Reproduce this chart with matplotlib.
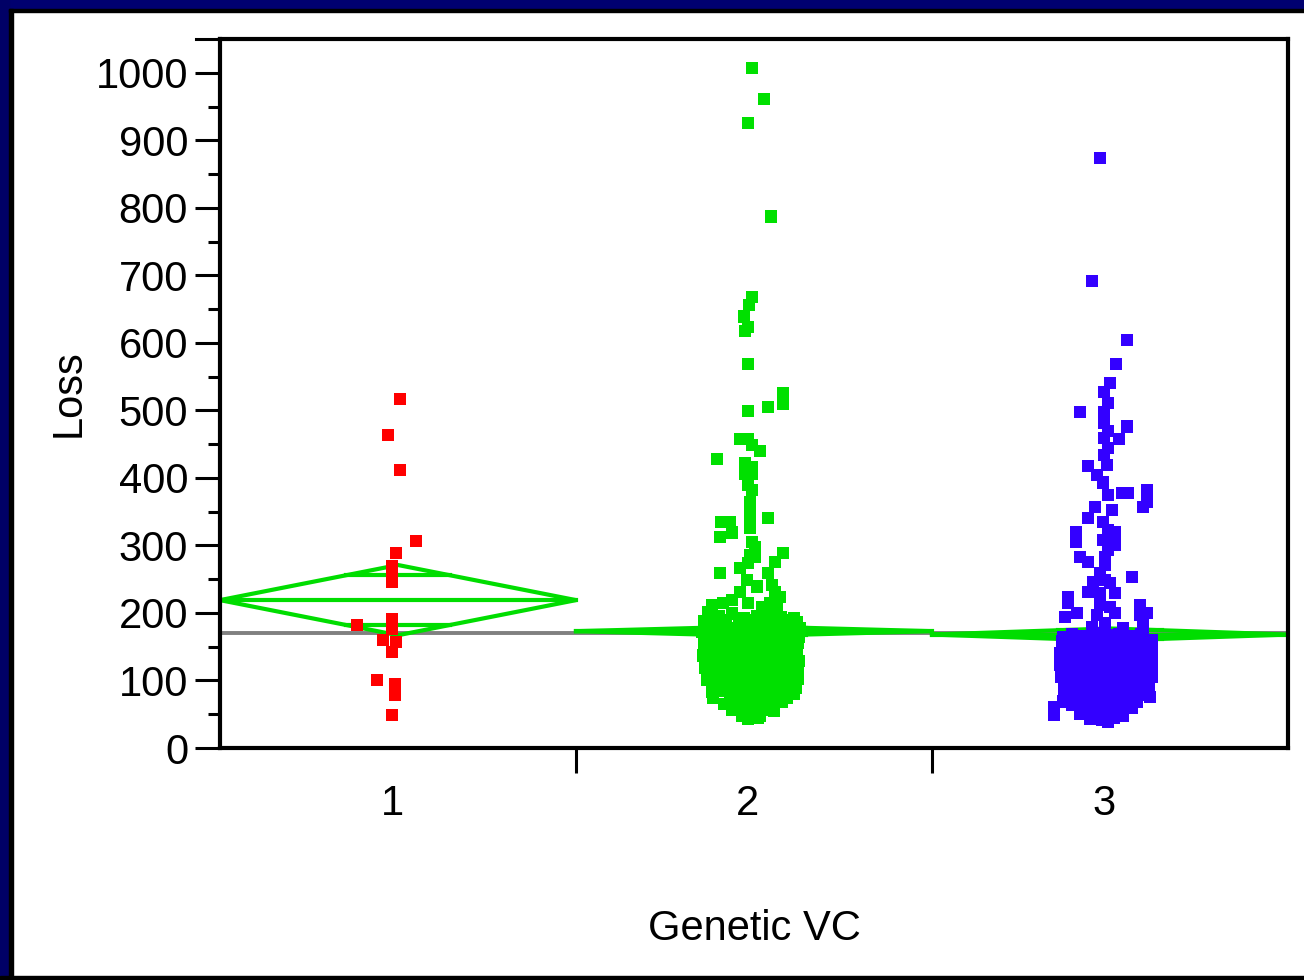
import numpy as np
import matplotlib
matplotlib.use("Agg")
import matplotlib.pyplot as plt
import matplotlib.transforms as mtransforms
from matplotlib.patches import Rectangle

plt.rcParams['font.family'] = ['Liberation Sans', 'DejaVu Sans']

# ---------------- data ----------------
groups = [1, 2, 3]
group_labels = ["1", "2", "3"]
x_label = "Genetic VC"
y_label = "Loss"

# group 1 (red)
g1_jitter = [0.006, -0.028, 0.006, 0.051, -0.006, -0.017, -0.017, -0.017, -0.115,
             -0.017, -0.017, -0.042, -0.006, -0.017, -0.059, -0.008, -0.008, -0.017]
g1_loss = [517, 464, 412, 307, 289, 270, 258, 246, 182,
           191, 176, 160, 157, 142, 101, 95, 79, 49]

# group 2 (green)
g2_jitter = [
    -0.006, 0.028, -0.017, 0.048, -0.006, -0.014, -0.028, -0.017, -0.025, -0.017,
    0.081, 0.081, 0.039, -0.017, -0.039, -0.017, -0.006, 0.017, -0.104, -0.025,
    -0.006, -0.025, -0.006, -0.017, -0.006, -0.011, -0.011, -0.011, -0.011, -0.093,
    -0.067, -0.062, -0.096, 0.039, -0.006, 0.003, -0.011, 0.003, 0.081, 0.059,
    -0.017, -0.039, 0.039, -0.096, -0.020, 0.008, 0.051, 0.059, 0.073, -0.039,
    -0.062, -0.087, -0.118, -0.129, -0.017, 0.045, 0.065, 0.022,
    # dense core
    -0.129, -0.098, -0.062, -0.028, 0.008, 0.042, 0.076, 0.112,
    -0.140, -0.110, -0.079, -0.042, -0.011, 0.022, 0.056, 0.087, 0.121,
    -0.124, -0.093, -0.056, -0.022, 0.011, 0.045, 0.079, 0.107, 0.129,
    -0.146, -0.112, -0.076, -0.039, -0.006, 0.031, 0.065, 0.098, 0.124,
    -0.132, -0.101, -0.067, -0.031, 0.003, 0.037, 0.073, 0.104, 0.126,
    -0.140, -0.107, -0.073, -0.037, -0.003, 0.025, 0.059, 0.093, 0.124,
    -0.126, -0.093, -0.056, -0.020, 0.014, 0.048, 0.081, 0.112,
    -0.143, -0.112, -0.079, -0.045, -0.011, 0.022, 0.053, 0.087, 0.121,
    -0.129, -0.098, -0.062, -0.028, 0.006, 0.039, 0.070, 0.104, 0.126,
    -0.138, -0.104, -0.070, -0.037, -0.003, 0.031, 0.065, 0.096, 0.124,
    -0.124, -0.087, -0.053, -0.020, 0.017, 0.051, 0.084, 0.115,
    -0.132, -0.098, -0.065, -0.031, 0.003, 0.037, 0.067, 0.101, 0.124,
    -0.112, -0.079, -0.045, -0.011, 0.022, 0.056, 0.090, 0.118,
    -0.118, -0.084, -0.051, -0.017, 0.017, 0.051, 0.084, 0.112,
    -0.115, -0.067, -0.034, 0.000, 0.034, 0.067, 0.093,
    -0.084, -0.051, -0.017, 0.017, 0.048, 0.079,
    -0.062, -0.031, 0.000, 0.028, 0.056,
    -0.034, -0.008, 0.017,
    -0.017, 0.011,
]
g2_loss = [
    1007, 961, 926, 787, 668, 656, 639, 624, 618, 569,
    526, 510, 505, 499, 458, 458, 449, 440, 428, 422,
    416, 406, 406, 390, 382, 364, 353, 338, 326, 335,
    335, 319, 313, 341, 305, 298, 286, 283, 289, 276,
    274, 267, 259, 259, 249, 239, 241, 231, 224, 231,
    219, 215, 212, 201, 215, 215, 207, 209,
    197, 195, 199, 193, 196, 198, 194, 192,
    188, 186, 190, 185, 189, 187, 184, 190, 186,
    180, 182, 178, 181, 179, 183, 177, 180, 178,
    172, 170, 174, 171, 173, 169, 172, 175, 170,
    163, 165, 161, 164, 162, 166, 163, 160, 164,
    154, 156, 152, 155, 153, 157, 154, 151, 155,
    146, 144, 147, 145, 148, 143, 146, 145,
    137, 139, 135, 138, 136, 140, 137, 134, 138,
    128, 130, 126, 129, 127, 131, 128, 125, 129,
    119, 121, 117, 120, 118, 122, 119, 116, 120,
    110, 112, 108, 111, 109, 113, 110, 107,
    101, 103, 99, 102, 100, 104, 101, 98, 102,
    92, 94, 90, 93, 91, 95, 92, 89,
    83, 85, 81, 84, 82, 86, 83, 80,
    74, 76, 72, 75, 73, 77, 74,
    65, 67, 63, 66, 64, 68,
    56, 58, 54, 57, 55,
    48, 50, 47,
    43, 44,
]

# group 3 (blue)
g3_jitter = [
    -0.028, -0.051, 0.048, 0.017, 0.000, -0.017, -0.006, -0.084, -0.017, -0.017,
    0.048, -0.006, -0.017, 0.025, -0.006, -0.017, -0.062, -0.008, -0.037, -0.020,
    -0.006, 0.034, 0.051, 0.104, 0.104, 0.093, -0.042, 0.006, -0.062, -0.020,
    -0.006, 0.014, -0.096, -0.096, -0.020, 0.014, -0.006, -0.084, -0.062, -0.014,
    -0.014, -0.028, 0.062, -0.014, -0.048, 0.000, -0.062, -0.028, 0.014, -0.118,
    -0.118, 0.084, -0.028, 0.000, -0.093, -0.126, -0.037, 0.014, 0.084, 0.104,
    -0.014, -0.051, 0.037, 0.093, 0.093, -0.132,
    # dense core
    -0.107, -0.073, -0.039, -0.008, 0.025, 0.059, 0.087,
    -0.135, -0.101, -0.067, -0.034, 0.000, 0.034, 0.067, 0.098, 0.118,
    -0.124, -0.087, -0.053, -0.020, 0.014, 0.048, 0.081, 0.112,
    -0.140, -0.107, -0.073, -0.039, -0.006, 0.028, 0.062, 0.093, 0.118,
    -0.126, -0.093, -0.059, -0.025, 0.008, 0.042, 0.076, 0.107,
    -0.140, -0.107, -0.073, -0.039, -0.006, 0.028, 0.062, 0.093, 0.118,
    -0.129, -0.096, -0.062, -0.028, 0.006, 0.039, 0.073, 0.104,
    -0.138, -0.104, -0.070, -0.037, -0.003, 0.031, 0.065, 0.096, 0.118,
    -0.124, -0.090, -0.056, -0.022, 0.011, 0.045, 0.079, 0.110,
    -0.129, -0.096, -0.062, -0.028, 0.006, 0.039, 0.073, 0.107,
    -0.112, -0.079, -0.045, -0.011, 0.022, 0.056, 0.090, 0.112,
    -0.132, -0.093, -0.059, -0.025, 0.008, 0.042, 0.076,
    -0.157, -0.107, -0.073, -0.039, -0.006, 0.028, 0.062,
    -0.157, -0.084, -0.045, -0.011, 0.022, 0.037,
    -0.056, -0.022, 0.011,
    -0.006,
]
g3_loss = [
    874, 692, 604, 569, 541, 527, 511, 498, 498, 481,
    476, 470, 459, 458, 444, 434, 418, 419, 404, 393,
    375, 378, 378, 382, 364, 357, 357, 353, 341, 335,
    323, 319, 319, 305, 308, 301, 293, 283, 276, 283,
    271, 259, 253, 249, 246, 244, 231, 230, 230, 224,
    215, 212, 212, 209, 200, 194, 197, 200, 197, 200,
    185, 179, 178, 185, 172, 164,
    168, 166, 170, 167, 169, 165, 168,
    159, 161, 157, 160, 158, 162, 159, 156, 160,
    150, 152, 148, 151, 149, 153, 150, 147,
    141, 143, 139, 142, 140, 144, 141, 138, 142,
    132, 134, 130, 133, 131, 135, 132, 129,
    123, 125, 121, 124, 122, 126, 123, 120, 124,
    114, 116, 112, 115, 113, 117, 114, 111,
    105, 107, 103, 106, 104, 108, 105, 102, 106,
    96, 98, 94, 97, 95, 99, 96, 93,
    87, 89, 85, 88, 86, 90, 87, 84,
    78, 80, 76, 79, 77, 81, 78, 75,
    69, 71, 67, 70, 68, 72, 69,
    60, 64, 58, 61, 59, 63, 60,
    49, 51, 49, 52, 50, 48,
    43, 41, 44,
    38,
]

# means diamonds (mean, CI half-width)
group_means = [219, 173, 168]
group_ci = [52, 7, 9]
grand_mean = 171

colors = ['#FF0000', '#00E000', '#3300FF']
diamond_color = '#00DD00'

# ---------------- figure ----------------
W, H = 1304, 980
fig = plt.figure(figsize=(W / 100, H / 100), dpi=100)
fig.patch.set_facecolor('white')

# frame
def frect(x0, y0, w, h, c):
    fig.patches.append(Rectangle((x0 / W, 1 - (y0 + h) / H), w / W, h / H,
                                 transform=fig.transFigure, color=c, zorder=0))
frect(0, 0, W, 9, '#000070')
frect(0, 0, 9, H, '#000066')
frect(9, 9, W - 9, 3, '#000000')
frect(9, 9, 4, H - 9, '#000000')
frect(0, H - 4, W, 4, '#000000')

ax = fig.add_axes([220 / W, 1 - 748 / H, (1288 - 220) / W, (748 - 39) / H])
ax.set_xlim(0.5, 3.5)
ax.set_ylim(0, 1050)

# grand mean line
ax.plot([0.5, 3.5], [grand_mean, grand_mean], color='#808080', lw=2.8, zorder=1,
        solid_capstyle='butt')

# means diamonds
for g, m, h in zip(groups, group_means, group_ci):
    xs = [g - 0.5, g, g + 0.5, g, g - 0.5]
    ys = [m, m + h, m, m - h, m]
    ax.plot(xs, ys, color=diamond_color, lw=3.0, zorder=2, solid_joinstyle='round')
    ax.plot([g - 0.5, g + 0.5], [m, m], color=diamond_color, lw=3.0, zorder=2)
    q = 0.5 * (1 - 1 / np.sqrt(2))
    for s in (1, -1):
        yy = m + s * h / np.sqrt(2)
        ax.plot([g - q, g + q], [yy, yy], color=diamond_color, lw=3.0, zorder=2)

# points
for g, jit, vals, c in zip(groups, [g1_jitter, g2_jitter, g3_jitter],
                           [g1_loss, g2_loss, g3_loss], colors):
    xs = g + np.array(jit)
    ax.scatter(xs, vals, marker='s', s=78, color=c, edgecolors='none', zorder=3,
               clip_on=False)

# axes styling
for sp in ax.spines.values():
    sp.set_linewidth(3.0)
ax.set_yticks(np.arange(0, 1001, 100))
ax.set_yticks(np.arange(50, 1050, 100), minor=True)
ax.tick_params(axis='y', which='major', length=18, width=2.2, labelsize=30, pad=5)
ax.tick_params(axis='y', which='minor', length=9, width=2.2)

ax.set_xticks([1.5, 2.5])
ax.set_xticklabels([])
ax.set_xticks(groups, minor=True)
ax.set_xticklabels(group_labels, minor=True)
ax.tick_params(axis='x', which='major', length=18, width=2.2)
ax.tick_params(axis='x', which='minor', length=0, labelsize=30, pad=26)
shift = mtransforms.ScaledTranslation(-6 / 100, 0, fig.dpi_scale_trans)
for lab in ax.get_xticklabels(minor=True):
    lab.set_transform(lab.get_transform() + shift)

ax.set_xlabel(x_label, fontsize=30, labelpad=61)
ax.set_ylabel(y_label, fontsize=30, labelpad=5)

# small extension of the top frame line to the left
ax.plot([-24 / 1068, 0], [1050, 1050], transform=ax.get_yaxis_transform(),
        color='black', lw=2.2, clip_on=False)

fig.savefig('out.png', dpi=100, facecolor='white')
